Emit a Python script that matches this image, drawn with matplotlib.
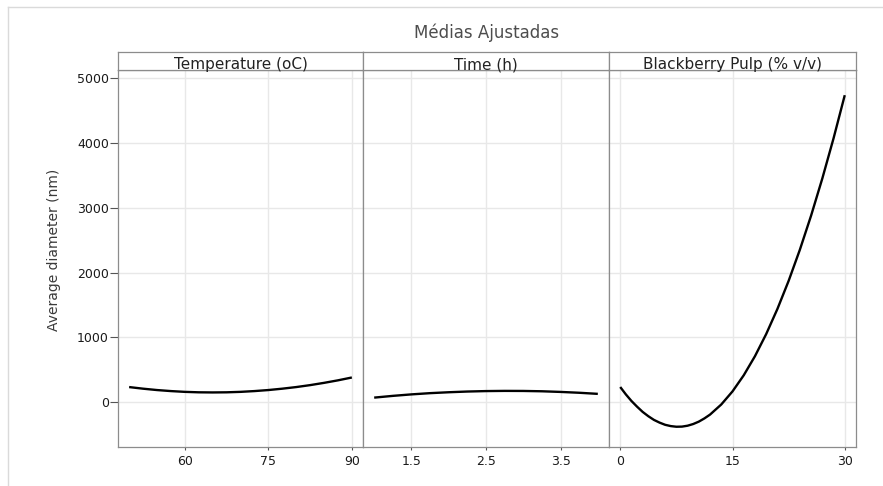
import matplotlib
matplotlib.use("Agg")
import matplotlib.pyplot as plt
from matplotlib.lines import Line2D

# ---- data ----
title = "Médias Ajustadas"
ylabel = "Average diameter (nm)"
panel_titles = ["Temperature (oC)", "Time (h)", "Blackberry Pulp (% v/v)"]

temp_x = [50, 52.5, 55, 57.5, 60, 62.5, 65, 67.5, 70, 72.5, 75, 77.5, 80, 82.5, 85, 87.5, 90]
temp_y = [231, 206, 185, 169, 157, 150, 148, 150, 157, 169, 185, 206, 231, 261, 296, 335, 379]

time_x = [1.0, 1.25, 1.5, 1.75, 2.0, 2.25, 2.5, 2.75, 3.0, 3.25, 3.5, 3.75, 4.0]
time_y = [68, 95, 118, 137, 151, 162, 169, 172, 171, 166, 156, 143, 126]

pulp_x = [0, 0.75, 1.5, 2.25, 3, 3.75, 4.5, 5.25, 6, 6.75, 7.5, 8.25, 9, 9.75, 10.5, 11.25, 12,
          13.5, 15, 16.5, 18, 19.5, 21, 22.5, 24, 25.5, 27, 28.5, 30]
pulp_y = [232, 118, 16, -72, -153, -219, -276, -318, -352, -372, -382, -380, -366, -340, -303,
          -253, -194, -38, 164, 413, 708, 1050, 1438, 1872, 2353, 2880, 3454, 4074, 4741]

xticks = [[60, 75, 90], [1.5, 2.5, 3.5], [0, 15, 30]]
xticklabels = [["60", "75", "90"], ["1.5", "2.5", "3.5"], ["0", "15", "30"]]
xlims = [(48, 92), (0.85, 4.15), (-1.5, 31.5)]
yticks = [0, 1000, 2000, 3000, 4000, 5000]
ylim = (-695, 5130)

series = [(temp_x, temp_y), (time_x, time_y), (pulp_x, pulp_y)]

# ---- layout ----
W, H = 883, 486
fig = plt.figure(figsize=(W / 100, H / 100), dpi=100)
plt.rcParams['font.family'] = ['DejaVu Sans']

panel_x = [118, 363, 609, 856]
top_px, strip_top_px, bottom_px = 70, 52, 447
border_col = '#8c8c8c'
grid_col = '#e8e8e8'

def fx(p):
    return p / W

def fy(p):
    return 1 - p / H

for i in range(3):
    x0, x1 = panel_x[i], panel_x[i + 1]
    ax = fig.add_axes([fx(x0), fy(bottom_px), fx(x1 - x0), (bottom_px - top_px) / H])
    xs, ys = series[i]
    ax.plot(xs, ys, color='black', lw=1.7, solid_capstyle='butt', solid_joinstyle='round', zorder=3)
    ax.set_xlim(*xlims[i])
    ax.set_ylim(*ylim)
    ax.set_xticks(xticks[i])
    ax.set_xticklabels(xticklabels[i])
    ax.set_yticks(yticks)
    ax.grid(True, color=grid_col, lw=1.0)
    ax.set_axisbelow(True)
    for s in ax.spines.values():
        s.set_color(border_col)
        s.set_linewidth(0.9)
    ax.tick_params(axis='x', length=2.4, width=0.8, color='#555555', pad=3.5,
                   labelsize=9, labelcolor='#1a1a1a')
    if i == 0:
        ax.tick_params(axis='y', length=5.5, width=0.8, color='#555555', pad=1,
                       labelsize=9, labelcolor='#1a1a1a')
        ax.set_yticklabels([str(v) for v in yticks])
    else:
        ax.tick_params(axis='y', length=0, labelleft=False)

    # strip
    sax = fig.add_axes([fx(x0), fy(top_px), fx(x1 - x0), (top_px - strip_top_px) / H])
    sax.set_xticks([])
    sax.set_yticks([])
    sax.set_facecolor('white')
    for s in sax.spines.values():
        s.set_color(border_col)
        s.set_linewidth(0.9)
    sax.text(0.5, 0.03, panel_titles[i], ha='center', va='baseline', fontsize=11,
             color='#222222', transform=sax.transAxes, clip_on=False)

# title and y label
fig.text(fx((118 + 856) / 2), fy(37.5), title, ha='center', va='baseline',
         fontsize=12, color='#4d4d4d')
fig.text(fx(54), fy(250), ylabel, rotation=90, ha='center', va='center',
         fontsize=10, color='#3a3a3a')

# outer light border (top and left edges)
fig.add_artist(Line2D([fx(8), 1], [fy(7), fy(7)], color='#dadada', lw=1.0))
fig.add_artist(Line2D([fx(8), fx(8)], [fy(7), 0], color='#dadada', lw=1.0))

fig.savefig('out.png', dpi=100, facecolor='white')
